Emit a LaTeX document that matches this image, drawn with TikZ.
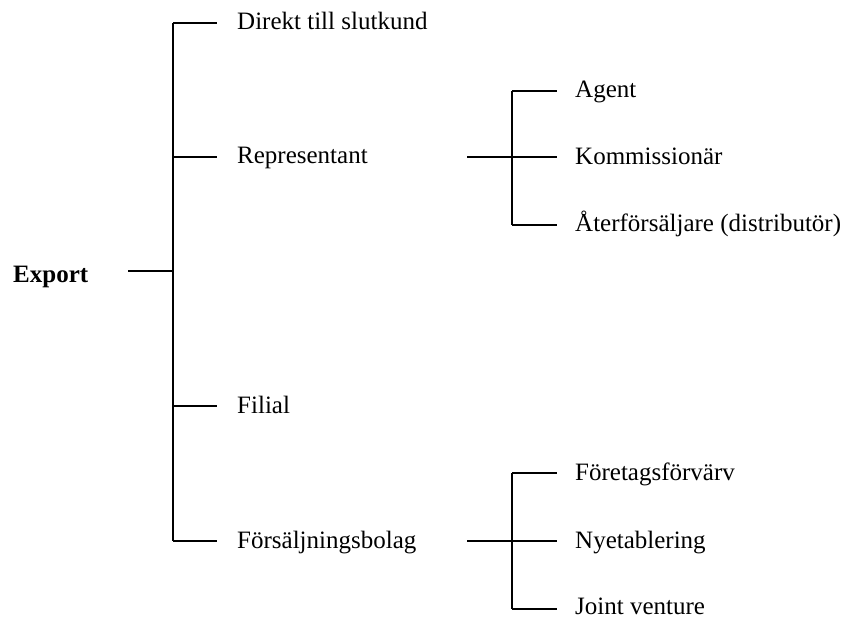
\documentclass[tikz,border=0pt]{standalone}
\usepackage{fontspec}
\setmainfont{Liberation Serif}

\begin{document}
\begin{tikzpicture}[x=1bp, y=-1bp,
        lbl/.style={anchor=base west, inner sep=0pt, font=\fontsize{25bp}{30bp}\selectfont},
        bar/.style={black, line width=2.8bp},
        arm/.style={black, line width=1.6bp}]
        \useasboundingbox (0,0) rectangle (842,618);

        % labels
        \node[lbl, font=\fontsize{25bp}{30bp}\selectfont\bfseries] (export) at (13,282) {Export};
        \node[lbl] (direkt) at (237,30) {Direkt till slutkund};
        \node[lbl] (repr) at (237,164) {Representant};
        \node[lbl] (filial) at (237,413) {Filial};
        \node[lbl] (fbolag) at (237,548) {Försäljningsbolag};
        \node[lbl] (agent) at (575,98) {Agent};
        \node[lbl] (komm) at (575,165) {Kommissionär};
        \node[lbl] (aterf) at (575,232) {Återförsäljare (distributör)};
        \node[lbl] (fforv) at (575,480) {Företagsförvärv};
        \node[lbl] (nyet) at (575,548) {Nyetablering};
        \node[lbl] (joint) at (575,614) {Joint venture};

        % main trunk
        \coordinate (trunkTop) at (173,23);
        \coordinate (trunkExp) at (173,271);
        \coordinate (trunkBot) at (173,541);
        \coordinate (expEnd) at (128,271);
        \draw [bar] (trunkTop) -- (trunkBot);
        \draw [arm] (expEnd) -- (trunkExp);
        \draw [arm] (trunkTop) -- (217,23) coordinate (direktEnd);
        \draw [arm] (173,157) coordinate (trunkRepr) -- (217,157) coordinate (reprEnd);
        \draw [arm] (173,406) coordinate (trunkFilial) -- (217,406) coordinate (filialEnd);
        \draw [arm] (trunkBot) -- (217,541) coordinate (fbolagEnd);

        % representant
        \coordinate (reprTop) at (512,91);
        \coordinate (reprBot) at (512,225);
        \draw [bar] (reprTop) -- (reprBot);
        \draw [arm] (467,157) coordinate (reprStart) -- (557,157) coordinate (kommEnd);
        \draw [arm] (reprTop) -- (557,91) coordinate (agentEnd);
        \draw [arm] (reprBot) -- (557,225) coordinate (aterfEnd);

        % forsaljningsbolag
        \coordinate (fbTop) at (512,473);
        \coordinate (fbBot) at (512,609);
        \draw [bar] (fbTop) -- (fbBot);
        \draw [arm] (467,541) coordinate (fbStart) -- (557,541) coordinate (nyetEnd);
        \draw [arm] (fbTop) -- (557,473) coordinate (fforvEnd);
        \draw [arm] (fbBot) -- (557,609) coordinate (jointEnd);
\end{tikzpicture}
\end{document}
